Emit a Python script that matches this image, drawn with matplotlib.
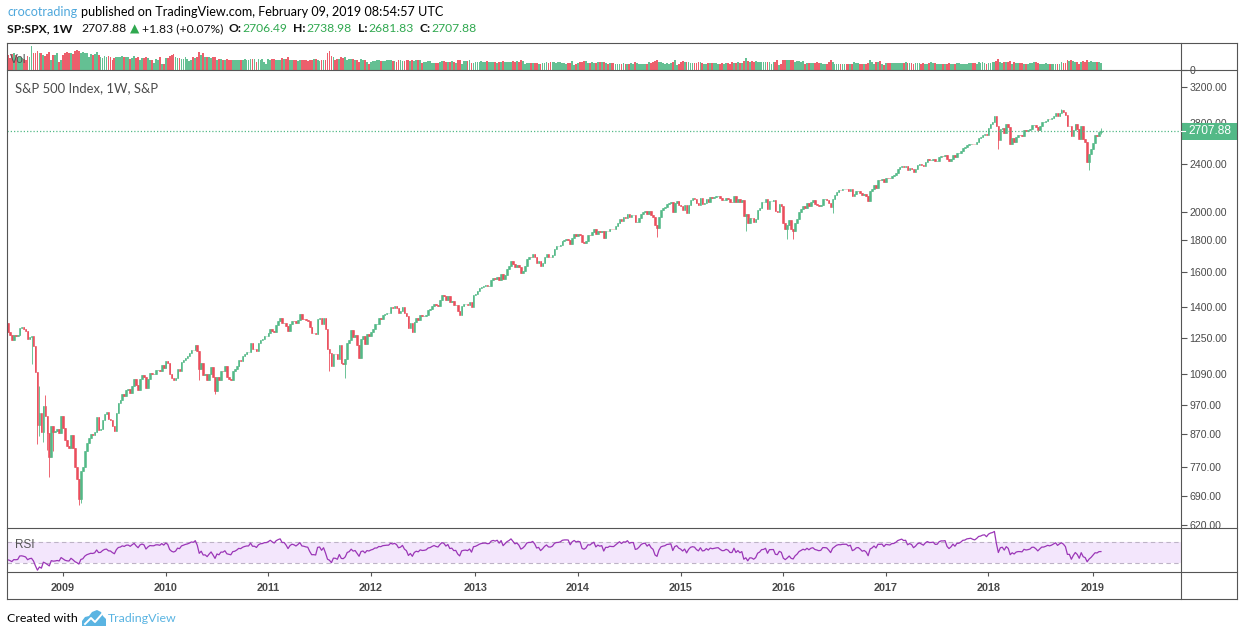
import numpy as np
import pandas as pd
import matplotlib
matplotlib.use("Agg")
import matplotlib.pyplot as plt
import matplotlib.dates as mdates
from matplotlib.lines import Line2D
from matplotlib.patches import Rectangle, Polygon
from matplotlib.ticker import NullLocator, NullFormatter

# ---------------- data: S&P 500 weekly closes ----------------
# Jan - Jun 2008, only used so the RSI has a history before the first visible bar
warmup_close = [1411.6, 1401.0, 1325.2, 1330.6, 1395.4, 1331.3, 1350.0, 1353.1, 1330.6,
                1293.4, 1288.1, 1329.5, 1315.2, 1370.4, 1332.8, 1390.3, 1397.8, 1413.9,
                1388.3, 1425.4, 1375.9, 1400.4, 1360.7, 1360.0, 1317.9]

close_2008 = [1278.4, 1262.9, 1239.5, 1260.7, 1257.8, 1260.3, 1296.3, 1298.2, 1292.2, 1282.8,
              1242.3, 1251.7, 1255.1, 1213.3, 1099.2, 899.2, 940.6, 876.8, 968.8, 931.0,
              873.3, 800.0, 896.2, 876.1, 879.7, 887.9, 872.8]
close_2009 = [931.8, 890.4, 850.1, 832.0, 825.9, 868.6, 826.8, 770.1, 735.1, 683.4, 756.6,
              768.5, 815.9, 842.5, 856.6, 869.6, 866.2, 877.5, 929.2, 882.9, 887.0, 919.1,
              940.1, 946.2, 921.2, 918.9, 896.4, 879.1, 940.4, 979.3, 987.5, 1010.5, 1004.1,
              1026.1, 1028.9, 1016.4, 1042.7, 1068.3, 1044.4, 1025.2, 1071.5, 1087.7, 1079.6,
              1036.2, 1069.3, 1093.5, 1091.4, 1091.5, 1106.0, 1106.4, 1102.5, 1126.5, 1115.1]
close_2010 = [1145.0, 1136.0, 1091.8, 1073.9, 1066.2, 1075.5, 1109.2, 1104.5, 1138.7, 1150.0,
              1159.9, 1166.6, 1178.1, 1194.4, 1192.1, 1217.3, 1186.7, 1110.9, 1135.7, 1087.7,
              1089.4, 1064.9, 1091.6, 1117.5, 1076.8, 1022.6, 1078.0, 1064.9, 1102.7, 1101.6,
              1121.6, 1079.3, 1071.7, 1064.6, 1104.5, 1109.6, 1125.6, 1148.7, 1146.2, 1165.2,
              1176.2, 1183.1, 1183.3, 1225.9, 1199.2, 1199.7, 1189.4, 1224.7, 1240.4, 1243.9,
              1256.8, 1257.6]
close_2011 = [1271.5, 1293.2, 1283.4, 1276.3, 1310.9, 1329.2, 1343.0, 1319.9, 1321.2, 1304.3,
              1279.2, 1313.8, 1332.4, 1328.2, 1319.7, 1337.4, 1363.6, 1340.2, 1337.8, 1333.3,
              1331.1, 1300.2, 1271.0, 1271.5, 1268.5, 1339.7, 1343.8, 1316.1, 1345.0, 1292.3,
              1199.4, 1178.8, 1123.5, 1176.8, 1174.0, 1154.2, 1216.0, 1136.4, 1131.4, 1155.5,
              1224.6, 1238.3, 1285.1, 1253.2, 1263.9, 1215.7, 1158.7, 1244.3, 1255.2, 1219.7,
              1265.3, 1257.6]
close_2012 = [1277.8, 1289.1, 1315.4, 1316.3, 1344.9, 1342.6, 1361.2, 1365.7, 1370.0, 1370.9,
              1404.2, 1397.1, 1408.5, 1398.1, 1370.3, 1378.5, 1403.4, 1369.1, 1353.4, 1295.2,
              1317.8, 1278.0, 1325.7, 1342.8, 1335.0, 1362.2, 1354.7, 1356.8, 1362.7, 1386.0,
              1391.0, 1405.9, 1418.2, 1411.1, 1406.6, 1437.9, 1465.8, 1460.2, 1440.7, 1460.9,
              1428.6, 1433.2, 1411.9, 1414.2, 1379.9, 1359.9, 1409.2, 1416.2, 1418.1, 1413.6,
              1430.2, 1402.4]
close_2013 = [1466.5, 1472.1, 1486.0, 1503.0, 1513.2, 1517.9, 1519.8, 1515.6, 1518.2, 1551.2,
              1560.7, 1556.9, 1569.2, 1553.3, 1588.9, 1555.3, 1582.2, 1614.4, 1633.7, 1667.5,
              1649.6, 1630.7, 1643.4, 1626.7, 1592.4, 1606.3, 1631.9, 1680.2, 1692.1, 1691.7,
              1709.7, 1691.4, 1655.8, 1663.5, 1633.0, 1655.2, 1688.0, 1709.9, 1691.8, 1690.5,
              1703.2, 1744.5, 1759.8, 1761.6, 1770.6, 1798.2, 1804.8, 1805.8, 1805.1, 1775.3,
              1818.3, 1841.4]
close_2014 = [1831.4, 1842.4, 1838.7, 1790.3, 1782.6, 1797.0, 1838.6, 1836.3, 1859.5, 1878.0,
              1841.1, 1866.5, 1857.6, 1865.1, 1815.7, 1864.9, 1863.4, 1881.1, 1878.5, 1877.9,
              1900.5, 1923.6, 1949.4, 1936.2, 1962.9, 1961.0, 1985.4, 1967.6, 1978.2, 1978.3,
              1925.2, 1931.6, 1955.1, 1988.4, 2003.4, 2007.7, 1985.5, 2010.4, 1982.9, 1967.9,
              1906.1, 1886.8, 1964.6, 2018.1, 2031.9, 2039.8, 2063.5, 2067.6, 2075.4, 2002.3,
              2070.7, 2088.8]
close_2015 = [2058.2, 2044.8, 2019.4, 2051.8, 1995.0, 2055.5, 2097.0, 2110.3, 2104.5, 2071.3,
              2053.4, 2108.1, 2061.0, 2067.0, 2102.1, 2081.2, 2117.7, 2108.3, 2116.1, 2122.7,
              2126.1, 2107.4, 2092.8, 2094.1, 2110.0, 2101.5, 2076.8, 2076.6, 2126.6, 2079.7,
              2103.8, 2077.6, 2091.5, 1970.9, 1988.9, 1921.2, 1961.1, 1958.0, 1931.3, 1951.4,
              2014.9, 2033.1, 2075.2, 2079.4, 2099.2, 2023.0, 2089.2, 2090.1, 2091.7, 2012.4,
              2005.6, 2061.0, 2043.9]
close_2016 = [1922.0, 1880.3, 1906.9, 1940.2, 1880.1, 1864.8, 1917.8, 1948.1, 2000.0, 2022.2,
              2049.6, 2035.9, 2072.8, 2047.6, 2080.7, 2091.6, 2065.3, 2057.1, 2046.6, 2052.3,
              2099.1, 2099.1, 2096.1, 2071.2, 2037.4, 2103.0, 2129.9, 2161.7, 2175.0, 2173.6,
              2182.9, 2184.1, 2183.9, 2169.0, 2180.0, 2127.8, 2139.2, 2164.7, 2168.3, 2153.7,
              2133.0, 2141.2, 2126.4, 2085.2, 2164.5, 2181.9, 2213.4, 2192.0, 2259.5, 2258.1,
              2263.8, 2238.8]
close_2017 = [2277.0, 2274.6, 2271.3, 2294.7, 2297.4, 2316.1, 2351.2, 2367.3, 2383.1, 2372.6,
              2378.3, 2344.0, 2362.7, 2355.5, 2329.0, 2348.7, 2384.2, 2399.3, 2390.9, 2381.7,
              2415.8, 2439.1, 2431.8, 2433.2, 2438.3, 2423.4, 2425.2, 2459.3, 2472.5, 2472.1,
              2476.8, 2441.3, 2425.6, 2443.1, 2476.6, 2461.4, 2500.2, 2502.2, 2519.4, 2549.3,
              2553.2, 2575.2, 2581.1, 2587.8, 2582.3, 2578.9, 2602.4, 2642.2, 2651.5, 2675.8,
              2683.3, 2673.6]
close_2018 = [2743.2, 2786.2, 2810.3, 2872.9, 2762.1, 2619.6, 2732.2, 2747.3, 2691.3, 2786.6,
              2752.0, 2588.3, 2640.9, 2604.5, 2656.3, 2670.1, 2669.9, 2663.4, 2727.7, 2713.0,
              2721.3, 2734.6, 2779.0, 2779.4, 2754.9, 2718.4, 2759.8, 2801.3, 2801.8, 2818.8,
              2840.4, 2833.3, 2850.1, 2874.7, 2901.5, 2871.7, 2905.0, 2929.7, 2914.0, 2885.6,
              2767.1, 2767.8, 2658.7, 2723.1, 2781.0, 2736.3, 2632.6, 2760.2, 2633.1, 2600.0,
              2416.6, 2485.7]
close_2019 = [2531.9, 2596.3, 2670.7, 2664.8, 2706.05, 2707.88]

close = (close_2008 + close_2009 + close_2010 + close_2011 + close_2012 + close_2013 +
         close_2014 + close_2015 + close_2016 + close_2017 + close_2018 + close_2019)

# weekly volume (billions of shares)
vol_2008 = [19, 15, 20, 22, 19, 17, 17, 15, 14, 13, 18, 17, 30, 21, 22, 24, 22, 21, 19, 18,
            20, 23, 13, 19, 19, 21, 10]
vol_2009 = [12, 19, 22, 23, 22, 21, 20, 24, 25, 24, 22, 23, 21, 22, 17, 20, 19, 20, 23, 19,
            16, 15, 18, 16, 18, 16, 12, 15, 16, 17, 16, 18, 17, 16, 17, 14, 15, 18, 15, 17,
            13, 15, 15, 17, 15, 13, 13, 9, 14, 13, 16, 7, 8]
vol_2010 = [15, 15, 18, 19, 20, 16, 15, 15, 14, 14, 16, 14, 11, 13, 16, 15, 17, 23, 19, 22,
            17, 16, 16, 15, 16, 17, 13, 14, 14, 13, 13, 14, 13, 13, 12, 12, 13, 13, 13, 13,
            14, 13, 13, 14, 14, 14, 10, 14, 13, 14, 10, 8]
vol_2011 = [14, 13, 14, 14, 13, 13, 13, 15, 14, 14, 17, 12, 12, 12, 12, 11, 12, 13, 12, 12,
            11, 13, 13, 14, 14, 12, 11, 12, 12, 13, 21, 24, 18, 16, 12, 14, 14, 17, 15, 17,
            13, 14, 14, 14, 12, 12, 10, 14, 12, 13, 10, 8]
vol_2012 = [10, 11, 11, 12, 12, 11, 11, 11, 12, 12, 12, 11, 11, 10, 12, 12, 11, 11, 12, 13,
            11, 12, 11, 12, 12, 12, 9, 10, 10, 11, 11, 9, 9, 9, 9, 10, 11, 11, 10, 10,
            10, 11, 10, 9, 12, 12, 8, 11, 11, 11, 12, 9]
vol_2013 = [9, 10, 10, 10, 11, 10, 10, 11, 10, 10, 10, 10, 9, 10, 10, 11, 10, 10, 10, 10,
            11, 10, 11, 10, 12, 11, 8, 9, 9, 9, 9, 9, 9, 8, 8, 9, 9, 10, 9, 10,
            10, 10, 9, 10, 10, 9, 9, 7, 9, 9, 11, 6]
vol_2014 = [7, 9, 10, 10, 11, 11, 9, 9, 10, 9, 9, 10, 10, 10, 10, 9, 8, 9, 9, 9,
            8, 8, 8, 8, 9, 8, 7, 8, 9, 8, 10, 9, 8, 7, 7, 8, 8, 10, 9, 10,
            11, 13, 10, 10, 9, 8, 9, 7, 9, 10, 12, 6]
vol_2015 = [7, 10, 11, 10, 10, 10, 9, 9, 9, 9, 10, 10, 9, 8, 8, 9, 9, 9, 9, 9,
            8, 8, 9, 8, 9, 9, 8, 10, 9, 9, 10, 9, 9, 11, 15, 11, 10, 11, 10, 11,
            10, 10, 10, 10, 10, 10, 10, 7, 10, 10, 12, 6, 7]
vol_2016 = [12, 13, 13, 12, 12, 13, 10, 11, 11, 10, 11, 8, 9, 9, 9, 9, 9, 10, 9, 9,
            8, 8, 8, 10, 12, 10, 8, 8, 8, 8, 8, 7, 7, 7, 7, 8, 10, 9, 9, 8,
            8, 8, 8, 9, 12, 10, 7, 10, 10, 11, 7, 6]
vol_2017 = [9, 9, 9, 9, 9, 9, 9, 9, 9, 9, 10, 9, 9, 9, 8, 9, 9, 9, 8, 9,
            8, 8, 9, 10, 9, 9, 8, 8, 8, 8, 8, 8, 9, 7, 7, 8, 9, 9, 8, 8,
            8, 8, 9, 9, 9, 9, 7, 10, 9, 10, 9, 7]
vol_2018 = [9, 9, 10, 10, 11, 14, 10, 9, 10, 10, 10, 11, 8, 10, 9, 9, 9, 9, 8, 8,
            8, 9, 9, 10, 10, 9, 7, 8, 8, 9, 8, 8, 8, 7, 8, 8, 8, 10, 9, 9,
            12, 11, 12, 11, 10, 10, 8, 10, 11, 10, 13, 10]
vol_2019 = [11, 10, 10, 10, 10, 9]

volume = (vol_2008 + vol_2009 + vol_2010 + vol_2011 + vol_2012 + vol_2013 + vol_2014 +
          vol_2015 + vol_2016 + vol_2017 + vol_2018 + vol_2019)

# last bar (from the header)
last_open, last_high, last_low, last_close = 2706.49, 2738.98, 2681.83, 2707.88
change, change_pct = 1.83, 0.07

# weeks with long shadows (week starting Monday)
low_weeks = ['2008-09-15', '2008-10-06', '2008-10-13', '2008-10-27', '2008-11-10',
             '2008-11-17', '2008-12-01', '2009-03-02', '2009-03-09', '2010-05-03',
             '2010-06-28', '2011-08-08', '2011-10-03', '2014-10-13', '2015-08-24',
             '2016-01-18', '2016-02-08', '2016-06-27', '2018-02-05', '2018-12-24']
low_values = [1133.5, 839.8, 865.8, 845.3, 818.7, 741.0, 815.7, 666.8, 672.9, 1065.8,
              1010.9, 1101.5, 1074.8, 1820.7, 1867.0, 1812.3, 1810.1, 1991.7, 2532.7, 2346.6]
high_weeks = ['2008-10-13', '2008-11-03', '2018-01-22', '2018-09-17']
high_values = [1044.3, 1007.5, 2872.9, 2940.9]

price_ticks = [620, 690, 770, 870, 970, 1090, 1250, 1400, 1600, 1800, 2000, 2400, 2800, 3200]
years = list(range(2009, 2020))

# ---------------- prepare ----------------
GREEN = '#53b987'
RED = '#eb4d5c'
TXT_GREEN = '#2fa84f'
BLUE = '#4fa8dc'
FRAME = '#555555'
AXIS_TXT = '#4a4a4a'
HEAD_FONT = ['Lato', 'DejaVu Sans']
AX_FONT = ['Liberation Sans', 'DejaVu Sans']

weeks = pd.date_range(end='2019-02-04', periods=len(close), freq='W-MON')
x = mdates.date2num(weeks)

c = np.array(close, dtype=float)
o = np.r_[warmup_close[-1], c[:-1]]
o[-1] = last_open
hi = np.maximum(o, c)
lo = np.minimum(o, c)
for d, v in zip(low_weeks, low_values):
    i = weeks.get_loc(pd.Timestamp(d))
    lo[i] = min(lo[i], v)
for d, v in zip(high_weeks, high_values):
    i = weeks.get_loc(pd.Timestamp(d))
    hi[i] = max(hi[i], v)
hi[-1] = last_high
lo[-1] = last_low

up = c >= o
colors = np.where(up, GREEN, RED)

# RSI 14 (Wilder)
full = pd.Series(warmup_close + close, dtype=float)
delta = full.diff()
avg_up = delta.clip(lower=0).ewm(alpha=1 / 14, adjust=False).mean()
avg_dn = (-delta.clip(upper=0)).ewm(alpha=1 / 14, adjust=False).mean()
rsi = (100 - 100 / (1 + avg_up / avg_dn)).to_numpy()[len(warmup_close):]

# ---------------- figure ----------------
W, H = 1243, 636
fig = plt.figure(figsize=(W / 100, H / 100), dpi=100)
fig.patch.set_facecolor('white')


def box(l, t, r, b):
    return [l / W, 1 - b / H, (r - l) / W, (b - t) / H]


L, R, RR = 7, 1181, 1237
ax_vol = fig.add_axes(box(L, 43, R, 70))
ax = fig.add_axes(box(L, 70, R, 528), sharex=ax_vol)
ax_rsi = fig.add_axes(box(L, 528, R, 572), sharex=ax_vol)

for a in (ax_vol, ax, ax_rsi):
    for s in a.spines.values():
        s.set_visible(False)
    a.tick_params(axis='x', bottom=False, labelbottom=False)

# volume
ax_vol.bar(x, volume, width=6.4, color=colors, alpha=0.9, linewidth=0)
ax_vol.set_ylim(0, 34)
ax_vol.yaxis.tick_right()
ax_vol.set_yticks([0])
ax_vol.set_yticklabels(['0'], family=AX_FONT)
ax_vol.tick_params(axis='y', direction='out', length=4, width=0.8, color=FRAME,
                   labelsize=7.6, labelcolor=AXIS_TXT, pad=2)
ax_vol.text(3 / (R - L), 0.37, 'Vol', transform=ax_vol.transAxes, va='center',
            color='#555555', fontsize=8.5, family=AX_FONT)

# candles
ax.vlines(x, lo, hi, colors=colors, linewidth=0.6)
ax.bar(x, np.abs(c - o), bottom=np.minimum(o, c), width=5.6, color=colors,
       edgecolor=colors, linewidth=0.4)
ax.set_yscale('log')
ax.set_ylim(612, 3410)
ax.yaxis.tick_right()
ax.set_yticks(price_ticks)
ax.set_yticklabels([f'{v:.2f}' for v in price_ticks], family=AX_FONT)
ax.yaxis.set_minor_locator(NullLocator())
ax.yaxis.set_minor_formatter(NullFormatter())
ax.tick_params(axis='y', direction='out', length=4, width=0.8, color=FRAME,
               labelsize=7.6, labelcolor=AXIS_TXT, pad=2)
ax.axhline(last_close, color=GREEN, linestyle=(0, (1, 1.6)), linewidth=0.9)

# rsi
ax_rsi.axhspan(30, 70, color='#f3e6fc', linewidth=0)
ax_rsi.axhline(70, color='#bdb3c6', linestyle=(0, (4, 3)), linewidth=0.8)
ax_rsi.axhline(30, color='#bdb3c6', linestyle=(0, (4, 3)), linewidth=0.8)
ax_rsi.plot(x, rsi, color='#9b36b7', linewidth=0.9)
ax_rsi.set_ylim(11.5, 97.3)
ax_rsi.set_yticks([])
ax_rsi.text(8 / (R - L), 0.61, 'RSI', transform=ax_rsi.transAxes, va='center',
            color='#555555', fontsize=8.5, family=AX_FONT)

year_pos = [mdates.date2num(weeks[weeks.year == y][0]) for y in years]
ax_rsi.set_xticks(year_pos)
ax_rsi.set_xticklabels([str(y) for y in years], family=AX_FONT, fontweight='bold')
ax_rsi.tick_params(axis='x', bottom=True, labelbottom=True, direction='out', length=3,
                   width=0.8, color=FRAME, labelsize=7.8, labelcolor=AXIS_TXT, pad=5)
ax_rsi.set_xlim(mdates.date2num(pd.Timestamp('2008-06-20')),
                mdates.date2num(pd.Timestamp('2019-11-15')))

# frame lines
def hline(y, x0=L, x1=RR):
    fig.add_artist(Line2D([x0 / W, x1 / W], [1 - y / H, 1 - y / H], transform=fig.transFigure,
                          color=FRAME, linewidth=0.8))


def vline(xp, y0=43, y1=599):
    fig.add_artist(Line2D([xp / W, xp / W], [1 - y0 / H, 1 - y1 / H], transform=fig.transFigure,
                          color=FRAME, linewidth=0.8))


for yy in (43, 70, 528, 572, 599):
    hline(yy)
for xx in (L, R, RR):
    vline(xx)

# last price label
yd = ax.transData.transform((x[-1], last_close))[1]
fig.add_artist(Rectangle((R / W, (yd - 8.5) / H), (RR - R) / W, 17 / H,
                         transform=fig.transFigure, facecolor=GREEN, edgecolor='none'))
fig.add_artist(Line2D([R / W, (R + 4) / W], [yd / H, yd / H], transform=fig.transFigure,
                      color='white', linewidth=0.8))
fig.text((R + 29) / W, yd / H, f'{last_close:.2f}', color='white', fontsize=8.6,
         family=AX_FONT, ha='center', va='center')

# ---------------- header / footer text ----------------
renderer = fig.canvas.get_renderer()


def put_runs(runs, x0, y, size):
    made = []
    xp = x0
    for txt, col, weight, gap in runs:
        t = fig.text(xp / W, 1 - y / H, txt, color=col, fontweight=weight, fontsize=size,
                     family=HEAD_FONT, ha='left', va='center')
        made.append(t)
        xp += t.get_window_extent(renderer).width + gap
    return made, xp


def runs_line(runs, x0, y, right, size=9.0):
    made, end = put_runs(runs, x0, y, size)
    for t in made:
        t.remove()
    put_runs(runs, x0, y, size * (right - x0) / (end - x0))


runs_line([('crocotrading', BLUE, 'normal', 4),
           ('published on TradingView.com, February 09, 2019 08:54:57 UTC', 'black', 'normal', 0)],
          7, 12, 445)

runs_line([('SP:SPX, 1W', '#111111', 'bold', 9),
           (f'{last_close:.2f}', '#111111', 'normal', 3),
           ('▲', TXT_GREEN, 'normal', 3),
           (f'+{change:.2f} (+{change_pct:.2f}%)', '#111111', 'normal', 5),
           ('O:', '#111111', 'bold', 1), (f'{last_open:.2f}', TXT_GREEN, 'normal', 6),
           ('H:', '#111111', 'bold', 1), (f'{last_high:.2f}', TXT_GREEN, 'normal', 6),
           ('L:', '#111111', 'bold', 1), (f'{last_low:.2f}', TXT_GREEN, 'normal', 6),
           ('C:', '#111111', 'bold', 1), (f'{last_close:.2f}', TXT_GREEN, 'normal', 0)],
          7, 29, 477)

runs_line([('S&P 500 Index, 1W, S&P', '#4a4a4a', 'normal', 0)], 15, 88, 157)

runs_line([('Created with', 'black', 'normal', 0)], 7, 618, 78)

# TradingView logo, roughly
cloud = [(82, 626), (82, 621), (85, 617), (89, 616), (92, 612), (97, 610), (101, 612),
         (103, 616), (106, 619), (106, 626)]
fig.add_artist(Polygon([(px / W, 1 - py / H) for px, py in cloud], closed=True,
                       transform=fig.transFigure, facecolor='#5ab4e2', edgecolor='none'))
zig = [(85, 624), (91, 618), (95, 622), (102, 614)]
fig.add_artist(Line2D([p[0] / W for p in zig], [1 - p[1] / H for p in zig],
                      transform=fig.transFigure, color='white', linewidth=1.4))
runs_line([('TradingView', '#5ab4e2', 'normal', 0)], 108, 618, 177)

fig.savefig('out.png', dpi=100, facecolor='white')
